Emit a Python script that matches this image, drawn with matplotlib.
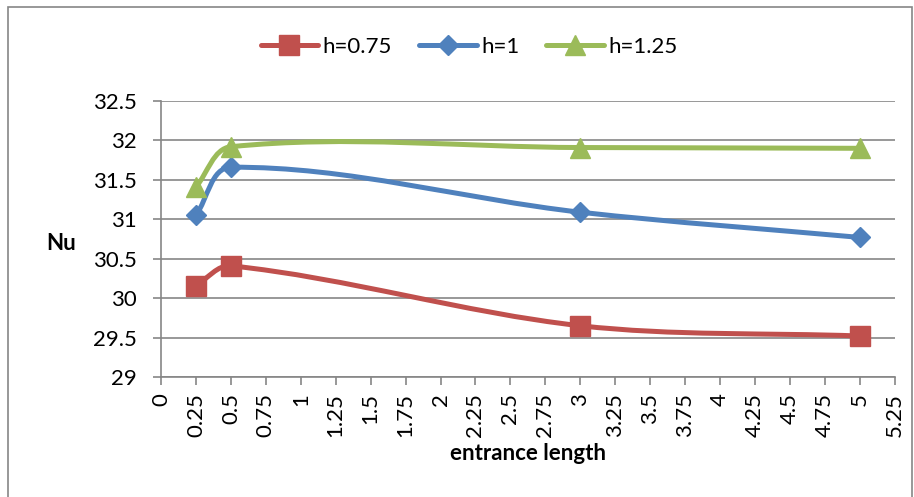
import numpy as np
import matplotlib
matplotlib.use("Agg")
import matplotlib.pyplot as plt
from matplotlib.path import Path
from matplotlib.patches import PathPatch, Rectangle
from matplotlib.lines import Line2D

plt.rcParams["font.family"] = ["Lato", "DejaVu Sans"]

x_vals = [0.25, 0.5, 3, 5]
nu_h075 = [30.16, 30.41, 29.65, 29.52]
nu_h1 = [31.05, 31.66, 31.09, 30.77]
nu_h125 = [31.41, 31.92, 31.91, 31.90]

series = [
    ("h=0.75", nu_h075, "#C0504D", "s", 14),
    ("h=1", nu_h1, "#4F81BD", "D", 10.5),
    ("h=1.25", nu_h125, "#9BBB59", "^", 14.5),
]

xticks = np.arange(0, 5.26, 0.25)
yticks = np.arange(29, 32.51, 0.5)

W, H = 914, 497
fig = plt.figure(figsize=(W / 100, H / 100), dpi=100)
ax = fig.add_axes([161 / W, 1 - 377 / H, (894.7 - 161) / W, (377 - 101) / H])
ax.set_xlim(0, 5.25)
ax.set_ylim(29, 32.5)

grey = "#868686"
fs = 16


def smooth_path(xs, ys):
    # excel-like smoothed line: bezier segments built in pixel space
    pts = ax.transData.transform(np.column_stack([xs, ys]))
    n = len(pts)
    verts = [pts[0]]
    codes = [Path.MOVETO]
    k = 1 / 3
    def tangent(i):
        a = pts[max(i - 1, 0)]
        b = pts[min(i + 1, n - 1)]
        d = b - a
        return d / np.hypot(*d)
    for i in range(n - 1):
        p0, p1 = pts[i], pts[i + 1]
        L = np.hypot(*(p1 - p0))
        c1 = p0 + tangent(i) * L * k
        c2 = p1 - tangent(i + 1) * L * k
        verts += [c1, c2, p1]
        codes += [Path.CURVE4] * 3
    verts = ax.transData.inverted().transform(np.array(verts))
    return Path(verts, codes)


handles = []
for label, ys, col, mk, ms in series:
    ax.add_patch(PathPatch(smooth_path(x_vals, ys), fill=False, edgecolor=col,
                           lw=3.6, capstyle="round", joinstyle="round", zorder=3))
    ax.plot(x_vals, ys, ls="none", marker=mk, ms=ms, color=col, zorder=4, clip_on=False)
    handles.append(Line2D([], [], color=col, lw=3.6, marker=mk, ms=ms,
                          solid_capstyle="round", label=label))

ax.set_xticks(xticks)
ax.set_xticklabels([f"{v:g}" for v in xticks], rotation=90)
ax.set_yticks(yticks)
ax.set_yticklabels([f"{v:g}" for v in yticks])
ax.tick_params(axis="both", direction="out", length=5.5, width=1.2, color=grey,
               labelsize=fs, labelcolor="black")
ax.tick_params(axis="y", pad=12)
ax.tick_params(axis="x", pad=6)

ax.grid(axis="y", color=grey, lw=1.2)
ax.set_axisbelow(True)
for s in ["top", "right"]:
    ax.spines[s].set_visible(False)
for s in ["left", "bottom"]:
    ax.spines[s].set_color(grey)
    ax.spines[s].set_linewidth(1.2)

fig.text(61 / W, 1 - 243 / H, "Nu", fontsize=fs, fontweight="bold", ha="center", va="center")
fig.text(528 / W, 1 - 453 / H, "entrance length", fontsize=fs, fontweight="bold",
         ha="center", va="center")

fig.legend(handles=handles, loc="center", bbox_to_anchor=(469 / W, 1 - 47 / H), ncol=3,
           frameon=False, fontsize=fs, handlelength=2.6, handletextpad=0.2,
           columnspacing=1.2, numpoints=1)

fig.patches.append(Rectangle((8 / W, -0.05), (912 - 8) / W, 1.05 - 7 / H,
                             transform=fig.transFigure, fill=False, edgecolor=grey, lw=1.2))

fig.savefig("out.png", dpi=100)
